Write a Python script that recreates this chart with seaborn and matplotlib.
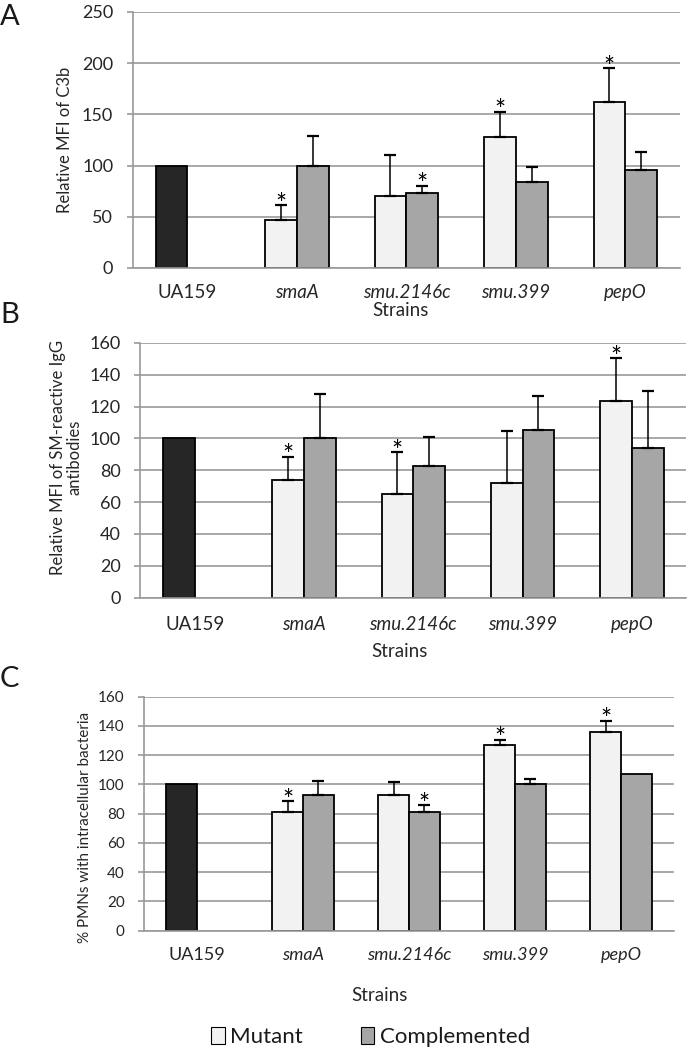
import numpy as np
import pandas as pd
import matplotlib
matplotlib.use("Agg")
import matplotlib.pyplot as plt
import seaborn as sns
from matplotlib.patches import Patch

# ---------------------------------------------------------------------------
# Data
# ---------------------------------------------------------------------------
strains = ["UA159", "smaA", "smu.2146c", "smu.399", "pepO"]
groups = ["Mutant", "Complemented"]

# A: relative MFI of C3b
c3b_mutant = [100, 47, 70, 127.5, 162]
c3b_mutant_err = [0, 14, 40, 25, 33]
c3b_comp = [np.nan, 100, 73.5, 83.5, 96]
c3b_comp_err = [0, 29, 7, 15, 17.5]
c3b_sig_mutant = [False, True, False, True, True]
c3b_sig_comp = [False, False, True, False, False]

# B: relative MFI of SM-reactive IgG antibodies
igg_mutant = [100, 74, 65, 72, 123.5]
igg_mutant_err = [0, 14.5, 26.5, 32.5, 27]
igg_comp = [np.nan, 100, 83, 105, 94]
igg_comp_err = [0, 28, 18, 21.5, 35.5]
igg_sig_mutant = [False, True, True, False, True]
igg_sig_comp = [False, False, False, False, False]

# C: % PMNs with intracellular bacteria
pmn_mutant = [100, 81.5, 93, 127, 136]
pmn_mutant_err = [0, 7, 9, 3.5, 7.5]
pmn_comp = [np.nan, 92.5, 81, 100.5, 107]
pmn_comp_err = [0, 10, 5, 3, 0]
pmn_sig_mutant = [False, True, False, True, True]
pmn_sig_comp = [False, False, True, False, False]

MUTANT_COLOR = "#f2f2f2"
COMP_COLOR = "#a6a6a6"
WT_COLOR = "#262626"
GRID_COLOR = "#9a9a9a"

sns.set_style("white")
plt.rcParams["font.family"] = ["Lato", "DejaVu Sans"]
plt.rcParams["text.color"] = "#1a1a1a"


def draw_panel(ax, mutant, mutant_err, comp, comp_err, sig_mut, sig_comp,
               ymax, ystep, ytick_fs, xtick_fs, xpad):
    rows = []
    for i, s in enumerate(strains):
        rows.append({"strain": s, "group": "Mutant", "value": mutant[i]})
        if not np.isnan(comp[i]):
            rows.append({"strain": s, "group": "Complemented", "value": comp[i]})
    df = pd.DataFrame(rows)

    sns.barplot(
        data=df, x="strain", y="value", hue="group",
        order=strains, hue_order=groups,
        palette={"Mutant": MUTANT_COLOR, "Complemented": COMP_COLOR},
        width=0.58, saturation=1, edgecolor="black", linewidth=1.3,
        errorbar=None, legend=False, ax=ax,
    )

    errs = {"Mutant": mutant_err, "Complemented": comp_err}
    sigs = {"Mutant": sig_mut, "Complemented": sig_comp}
    for grp, cont in zip(groups, ax.containers):
        for bar in cont:
            xc = bar.get_x() + bar.get_width() / 2
            ix = int(round(xc))
            h = bar.get_height()
            if grp == "Mutant" and ix == 0:
                bar.set_facecolor(WT_COLOR)
            e = errs[grp][ix]
            if e > 0:
                ax.errorbar([xc], [h], yerr=[[0], [e]], fmt="none",
                            ecolor="black", elinewidth=1.1, capsize=4,
                            capthick=1.6, zorder=4)
            if sigs[grp][ix]:
                ax.annotate("*", xy=(xc, h + e), xytext=(0, -5.5),
                            textcoords="offset points", ha="center",
                            va="baseline", fontsize=19, color="black")

    ax.set_xlim(-0.5, 4.5)
    ax.set_ylim(0, ymax)
    ax.set_yticks(np.arange(0, ymax + 1, ystep))
    ax.set_xticks(range(len(strains)))
    ax.set_xticklabels(strains, fontsize=xtick_fs)
    for lab in ax.get_xticklabels()[1:]:
        lab.set_style("italic")
    ax.set_xticks(np.arange(-0.5, len(strains), 1), minor=True)
    ax.tick_params(axis="x", which="major", length=0, pad=xpad)
    ax.tick_params(axis="x", which="minor", length=5, width=1.2,
                   color=GRID_COLOR, direction="out")
    ax.tick_params(axis="y", length=4.5, width=1.2, color=GRID_COLOR,
                   labelsize=ytick_fs, pad=9.5, left=True)

    ax.set_axisbelow(True)
    ax.yaxis.grid(True, color=GRID_COLOR, linewidth=1.2)
    ax.xaxis.grid(False)
    for side in ["top", "right"]:
        ax.spines[side].set_visible(False)
    for side in ["left", "bottom"]:
        ax.spines[side].set_color(GRID_COLOR)
        ax.spines[side].set_linewidth(1.2)


fig = plt.figure(figsize=(6.9, 10.5), dpi=100)

ax_a = fig.add_axes([0.1923, 0.7448, 0.7932, 0.2438])
ax_b = fig.add_axes([0.2029, 0.4308, 0.792, 0.2426])
ax_c = fig.add_axes([0.2087, 0.1136, 0.768, 0.2229])

draw_panel(ax_a, c3b_mutant, c3b_mutant_err, c3b_comp, c3b_comp_err,
           c3b_sig_mutant, c3b_sig_comp, 250, 50, 13, 13.5, 11.5)
draw_panel(ax_b, igg_mutant, igg_mutant_err, igg_comp, igg_comp_err,
           igg_sig_mutant, igg_sig_comp, 160, 20, 13, 13.5, 13.5)
draw_panel(ax_c, pmn_mutant, pmn_mutant_err, pmn_comp, pmn_comp_err,
           pmn_sig_mutant, pmn_sig_comp, 160, 20, 11, 13, 11.5)

# axis labels
ax_a.set_ylabel("Relative MFI of C3b", fontsize=12)
ax_a.yaxis.set_label_coords(-0.109, 0.5)
ax_a.set_xlabel("Strains", fontsize=13.5)
ax_a.xaxis.set_label_coords(0.489, -0.133)

ax_b.set_ylabel("Relative MFI of SM-reactive IgG\nantibodies", fontsize=12,
                linespacing=1.0)
ax_b.yaxis.set_label_coords(-0.106, 0.55)
ax_b.set_xlabel("Strains", fontsize=13.5)
ax_b.xaxis.set_label_coords(0.474, -0.177)

ax_c.set_ylabel("% PMNs with intracellular bacteria", fontsize=11)
ax_c.yaxis.set_label_coords(-0.098, 0.443)
ax_c.set_xlabel("Strains", fontsize=13.5)
ax_c.xaxis.set_label_coords(0.4435, -0.24)

# panel letters
fig.text(0.0, 1 - 25 / 1050, "A", fontsize=21, va="baseline", ha="left")
fig.text(0.0, 1 - 323 / 1050, "B", fontsize=21, va="baseline", ha="left")
fig.text(0.0, 1 - 687 / 1050, "C", fontsize=21, va="baseline", ha="left")

handles = [
    Patch(facecolor=MUTANT_COLOR, edgecolor="black", linewidth=0.8, label="Mutant"),
    Patch(facecolor=COMP_COLOR, edgecolor="black", linewidth=0.8, label="Complemented"),
]
fig.legend(handles=handles, loc="center", bbox_to_anchor=(0.537, 0.0124),
           ncol=2, frameon=False, fontsize=16, handlelength=0.6,
           handleheight=0.8, columnspacing=2.6, handletextpad=0.25,
           borderpad=0.2)

fig.savefig("out.png", dpi=100)
plt.close(fig)
